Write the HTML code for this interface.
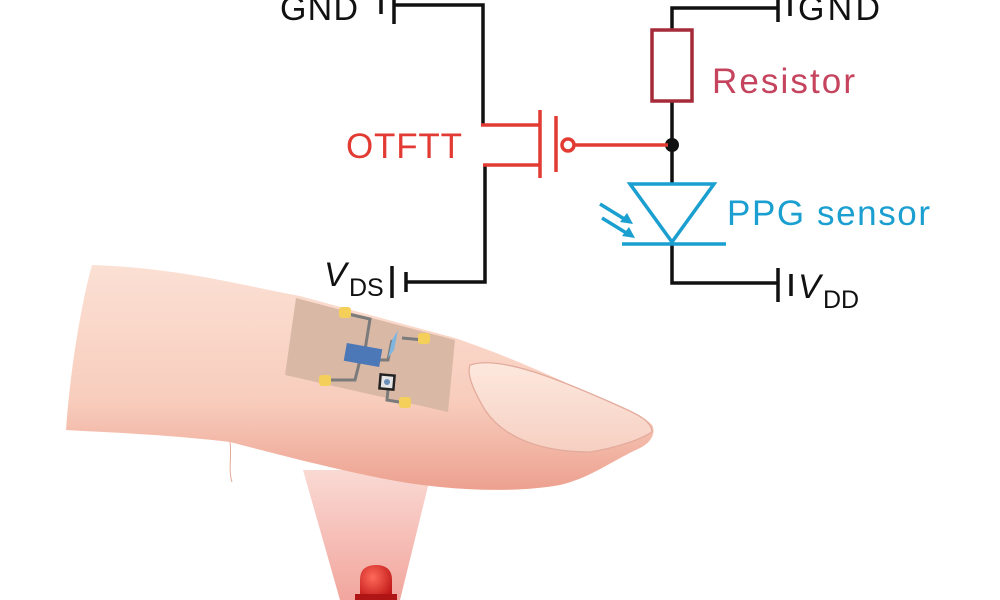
<!DOCTYPE html>
<html><head><meta charset="utf-8"><style>
html,body{margin:0;padding:0;background:#fff;}
svg{display:block}
text{font-family:"Liberation Sans",sans-serif;}
</style></head><body>
<svg width="1000" height="600" viewBox="0 0 1000 600" xmlns="http://www.w3.org/2000/svg">
<defs>
<linearGradient id="skin" x1="0" y1="0" x2="0" y2="1">
<stop offset="0" stop-color="#fbe0d4"/><stop offset="0.6" stop-color="#f8cdbd"/><stop offset="1" stop-color="#eda190"/>
</linearGradient>
<linearGradient id="beam" x1="0" y1="0" x2="0" y2="1">
<stop offset="0" stop-color="#f9d3cc"/><stop offset="1" stop-color="#ef968c"/>
</linearGradient>
<linearGradient id="nail" x1="0" y1="0" x2="0" y2="1">
<stop offset="0" stop-color="#fde8de"/><stop offset="1" stop-color="#f6d0c2"/>
</linearGradient>
<radialGradient id="led" cx="0.4" cy="0.35" r="0.7"><stop offset="0" stop-color="#ff6a5a"/><stop offset="1" stop-color="#c01818"/></radialGradient>
</defs>

<polygon points="303,470 432,470 400,600 340,600" fill="url(#beam)" opacity="0.85"/>
<path d="M360,600 L360,580 Q360,565 376,565 Q392,565 392,580 L392,600 Z" fill="url(#led)"/>
<rect x="355" y="594" width="42" height="6" fill="#b01515"/>

<!-- finger -->
<path d="M92,265 C180,268 240,285 300,296 L455,338 C490,350 520,362 560,380 C600,398 640,412 652,425 C656,432 652,442 640,448 C610,462 590,478 560,485 C510,494 440,490 380,478 C330,468 280,455 230,442 C160,434 100,432 66,430 C70,370 82,300 92,265 Z" fill="url(#skin)"/>
<!-- nail -->
<path d="M470,365 C500,355 560,380 610,402 C635,413 652,420 652,432 C640,440 615,448 590,452 C545,452 505,440 485,410 C476,395 466,375 470,365 Z" fill="url(#nail)" stroke="#e3ab9c" stroke-width="1.3"/>
<path d="M230,442 C232,455 228,470 232,482" stroke="#e6a898" stroke-width="1" fill="none"/>

<!-- sticker -->
<polygon points="296,298 455,340 448,412 285,375" fill="#d9b9a5"/>
<g stroke="#7b7b7b" stroke-width="3" fill="none">
<polyline points="348,314 370,319 365,350"/>
<polyline points="360,360 355,380 330,380"/>
<polyline points="402,338 424,340"/>
<polyline points="378,360 388,360 392,340"/>
<polyline points="388,390 387,400 405,403"/>
</g>
<rect x="345" y="346" width="36" height="18" fill="#4d78b8" transform="rotate(10 363 355)"/>
<path d="M398,330 L394,350 L388,358 L392,340 Z" fill="#7fb6e0"/>
<rect x="380" y="375" width="14" height="14" fill="#e6e6e6" stroke="#222" stroke-width="2.5" transform="rotate(5 387 382)"/>
<circle cx="387" cy="382" r="3" fill="#6a8fb8"/>
<g fill="#f4cf5a">
<rect x="339" y="307" width="12" height="11" rx="3"/>
<rect x="418" y="333" width="12" height="11" rx="3"/>
<rect x="319" y="375" width="12" height="11" rx="3"/>
<rect x="399" y="397" width="12" height="11" rx="3"/>
</g>

<g stroke="#111" stroke-width="3.5" fill="none">
<polyline points="395,5 483,5 483,125"/>
<polyline points="485,165 485,282 405,282"/>
<polyline points="672,30 672,8 778,8"/>
<polyline points="672,101 672,183"/>
<polyline points="672,243 672,283 778,283"/>
</g>
<g stroke="#111" stroke-width="3.5">
<line x1="381" y1="0" x2="381" y2="14"/><line x1="394" y1="0" x2="394" y2="24"/>
<line x1="392" y1="266" x2="392" y2="298"/><line x1="406" y1="272" x2="406" y2="292"/>
<line x1="778" y1="0" x2="778" y2="22"/><line x1="790" y1="0" x2="790" y2="16"/>
<line x1="778" y1="268" x2="778" y2="302"/><line x1="791" y1="274" x2="791" y2="296"/>
</g>
<circle cx="672" cy="145" r="7" fill="#111"/>

<g stroke="#e23b33" stroke-width="3.5" fill="none">
<polyline points="481,125 540,125"/>
<polyline points="483,165 540,165"/>
<line x1="540" y1="110" x2="540" y2="178"/>
<line x1="556" y1="116" x2="556" y2="172"/>
<circle cx="568" cy="145" r="6"/>
<line x1="574" y1="145" x2="668" y2="145"/>
</g>
<text x="346" y="158" font-size="35" fill="#e23b33" textLength="116">OTFTT</text>

<rect x="652" y="30" width="40" height="71" fill="none" stroke="#a52a3a" stroke-width="3.5"/>
<text x="712" y="93" font-size="35" fill="#c5435c" textLength="143">Resistor</text>

<g stroke="#1a9fd0" stroke-width="3.5" fill="none">
<polygon points="630,184 714,184 672,242"/>
<line x1="622" y1="244" x2="726" y2="244"/>
<line x1="600" y1="204" x2="626" y2="220"/>
<line x1="602" y1="218" x2="628" y2="234"/>
</g>
<g fill="#1a9fd0">
<polygon points="633,224 620,222 627,213"/>
<polygon points="635,238 622,236 629,227"/>
</g>
<text x="727" y="225" font-size="35" fill="#1a9fd0" textLength="203">PPG sensor</text>

<text x="280" y="20" font-size="34" fill="#111" textLength="78">GND</text>
<text x="798" y="20" font-size="34" fill="#111" textLength="82">GND</text>
<text x="324" y="286" font-size="34" font-style="italic" fill="#111">V</text>
<text x="349" y="296" font-size="25" fill="#111">DS</text>
<text x="798" y="298" font-size="34" font-style="italic" fill="#111">V</text>
<text x="823" y="308" font-size="25" fill="#111">DD</text>
</svg>
</body></html>
